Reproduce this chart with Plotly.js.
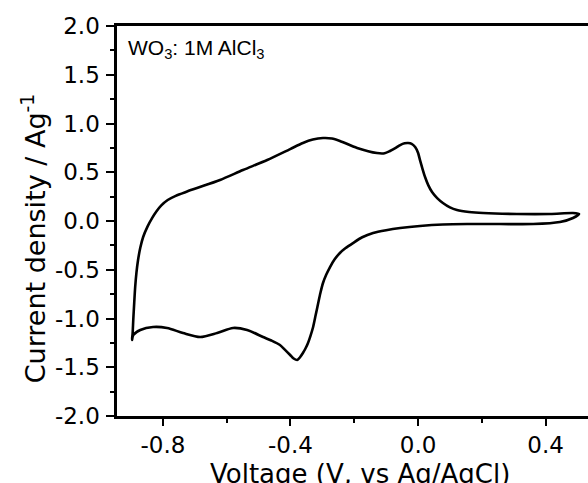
<!DOCTYPE html>
<html>
<head>
<meta charset="utf-8">
<script src="https://cdn.plot.ly/plotly-3.0.1.min.js"></script>
<style>
  html, body { margin: 0; padding: 0; background: #fff; }
  #chart { width: 588px; height: 483px; }
</style>
</head>
<body>
<div id="chart"></div>
<script>
// Cyclic voltammogram of WO3 in 1M AlCl3
// Cathodic sweep (from the right vertex, going left)
const voltageCathodic = [0.505, 0.486, 0.445, 0.361, 0.257, 0.154, 0.078, 0.006, -0.056, -0.100, -0.141, -0.175, -0.204, -0.228, -0.245, -0.262, -0.276, -0.288, -0.298, -0.306, -0.313, -0.321, -0.329, -0.337, -0.345, -0.353, -0.361, -0.370, -0.379, -0.390, -0.401, -0.417, -0.433, -0.460, -0.486, -0.536, -0.580, -0.630, -0.683, -0.737, -0.787, -0.831, -0.871, -0.893, -0.897];
const currentCathodic = [0.072, 0.031, -0.010, -0.031, -0.031, -0.031, -0.036, -0.051, -0.072, -0.094, -0.123, -0.167, -0.226, -0.280, -0.328, -0.395, -0.472, -0.552, -0.636, -0.736, -0.841, -0.965, -1.087, -1.175, -1.251, -1.308, -1.354, -1.397, -1.426, -1.410, -1.374, -1.322, -1.272, -1.226, -1.190, -1.118, -1.097, -1.149, -1.190, -1.149, -1.097, -1.087, -1.118, -1.169, -1.221];
// Anodic sweep (from the left vertex, going right)
const voltageAnodic = [-0.895, -0.893, -0.890, -0.887, -0.883, -0.878, -0.871, -0.862, -0.848, -0.834, -0.820, -0.805, -0.785, -0.760, -0.728, -0.693, -0.621, -0.549, -0.473, -0.401, -0.361, -0.330, -0.298, -0.270, -0.245, -0.191, -0.129, -0.105, -0.088, -0.070, -0.056, -0.042, -0.031, -0.020, -0.009, 0.000, 0.006, 0.014, 0.022, 0.032, 0.044, 0.060, 0.078, 0.100, 0.122, 0.160, 0.204, 0.310, 0.414, 0.486, 0.505];
const currentAnodic = [-1.150, -1.015, -0.840, -0.677, -0.530, -0.400, -0.275, -0.164, -0.055, 0.030, 0.100, 0.160, 0.215, 0.258, 0.298, 0.338, 0.421, 0.523, 0.626, 0.738, 0.800, 0.835, 0.851, 0.846, 0.821, 0.749, 0.697, 0.695, 0.718, 0.750, 0.779, 0.797, 0.800, 0.792, 0.759, 0.700, 0.626, 0.535, 0.451, 0.368, 0.297, 0.235, 0.185, 0.140, 0.113, 0.093, 0.082, 0.072, 0.072, 0.082, 0.072];

const xTickVals = [-0.8, -0.4, 0.0, 0.4];
const xTickLabels = ["-0.8", "-0.4", "0.0", "0.4"];
const yTickVals = [-2.0, -1.5, -1.0, -0.5, 0.0, 0.5, 1.0, 1.5, 2.0];
const yTickLabels = ["-2.0", "-1.5", "-1.0", "-0.5", "0.0", "0.5", "1.0", "1.5", "2.0"];

const xs = voltageCathodic.concat(voltageAnodic);
const ys = currentCathodic.concat(currentAnodic);

const tickFont = { family: "DejaVu Sans", size: 23, color: "#000" };

const trace = {
  x: xs, y: ys, type: "scatter", mode: "lines",
  line: { color: "#000", width: 2.6, shape: "spline", smoothing: 0.8 },
  hoverinfo: "skip"
};

const layout = {
  width: 588, height: 483,
  margin: { l: 117, r: 0, t: 26, b: 67, pad: 0 },
  paper_bgcolor: "#fff", plot_bgcolor: "#fff",
  showlegend: false,
  xaxis: {
    range: [-0.944, 0.533],
    tickmode: "array", tickvals: xTickVals, ticktext: xTickLabels,
    ticks: "outside", ticklen: 7, tickwidth: 2, tickcolor: "#000",
    minor: { dtick: 0.2, tick0: -0.8, ticks: "outside", ticklen: 4, tickwidth: 2, tickcolor: "#000" },
    showline: true, linewidth: 2.6, linecolor: "#000", mirror: true,
    showgrid: false, zeroline: false,
    tickfont: tickFont, ticklabelstandoff: 0
  },
  yaxis: {
    range: [-2, 2],
    tickmode: "array", tickvals: yTickVals, ticktext: yTickLabels,
    ticks: "outside", ticklen: 8, tickwidth: 2, tickcolor: "#000",
    minor: { dtick: 0.25, tick0: 0, ticks: "outside", ticklen: 4, tickwidth: 2, tickcolor: "#000" },
    showline: true, linewidth: 2.6, linecolor: "#000",
    showgrid: false, zeroline: false,
    tickfont: tickFont, ticklabelstandoff: 2
  },
  annotations: [
    {
      text: "WO<sub>3</sub>: 1M AlCl<sub>3</sub>",
      xref: "paper", yref: "paper", x: 0.019, y: 0.941,
      xanchor: "left", yanchor: "middle", showarrow: false,
      font: { family: "Liberation Sans, Arial", size: 21, color: "#000" }
    },
    {
      text: "Voltage (V, vs Ag/AgCl)",
      xref: "paper", yref: "paper", x: 0.516, y: -0.149,
      xanchor: "center", yanchor: "middle", showarrow: false,
      font: { family: "DejaVu Sans", size: 26, color: "#000" }
    },
    {
      text: "Current density / Ag<sup>-1</sup>",
      xref: "paper", yref: "paper", x: -0.178, y: 0.456,
      xanchor: "center", yanchor: "middle", showarrow: false, textangle: -90,
      font: { family: "DejaVu Sans", size: 27, color: "#000" }
    }
  ]
};

Plotly.newPlot("chart", [trace], layout, { staticPlot: true, displayModeBar: false });
</script>
</body>
</html>
